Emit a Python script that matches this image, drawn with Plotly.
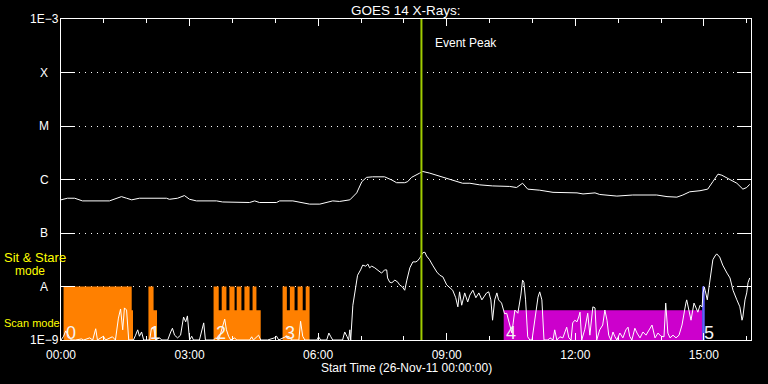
import math
import plotly.graph_objects as go

# ---------------- data ----------------
# time axis in hours after 26-Nov-2011 00:00 UT
x_range_hours = [0.0, 16.1]
x_tick_hours = [0, 3, 6, 9, 12, 15]
x_tick_labels = ["00:00", "03:00", "06:00", "09:00", "12:00", "15:00"]

y_tick_flux = [1e-9, 1e-8, 1e-7, 1e-6, 1e-5, 1e-4, 1e-3]
y_tick_labels = ["1E\u22129", "A", "B", "C", "M", "X", "1E\u22123"]

# GOES 14 long channel (1-8 A), log10 of flux in W/m^2
long_hours = [0.00, 0.15, 0.32, 0.43, 0.50, 1.13, 1.41, 1.53, 1.65, 1.83, 2.46, 2.53,
              2.72, 2.88, 3.00, 3.16, 3.40, 3.63, 3.77, 4.33, 4.40, 4.52, 4.63, 5.03,
              5.10, 5.41, 5.57, 5.80, 6.04, 6.20, 6.34, 6.50, 6.74, 6.90, 7.02, 7.13,
              7.27, 7.55, 7.62, 7.72, 7.83, 8.02, 8.09, 8.18, 8.37, 8.44, 8.60, 8.77,
              8.91, 9.14, 9.37, 9.54, 9.77, 10.07, 10.47, 10.63, 10.77, 10.89, 11.17,
              11.48, 12.04, 12.18, 12.46, 12.57, 12.97, 13.34, 13.90, 14.14, 14.37,
              14.51, 14.67, 14.91, 15.09, 15.21, 15.33, 15.42, 15.61, 15.77, 15.91,
              16.00, 16.07]
long_log10 = [-6.38, -6.35, -6.35, -6.38, -6.40, -6.40, -6.32, -6.35, -6.38, -6.35, -6.35, -6.37,
              -6.35, -6.30, -6.37, -6.40, -6.40, -6.40, -6.42, -6.42, -6.43, -6.40, -6.43, -6.43,
              -6.40, -6.40, -6.43, -6.46, -6.46, -6.43, -6.40, -6.41, -6.38, -6.25, -6.04, -5.96,
              -5.95, -5.95, -5.97, -6.01, -6.06, -6.06, -6.04, -5.96, -5.88, -5.85, -5.88, -5.92,
              -5.96, -6.02, -6.07, -6.07, -6.10, -6.12, -6.13, -6.15, -6.07, -6.18, -6.20,
              -6.24, -6.25, -6.27, -6.25, -6.28, -6.31, -6.29, -6.29, -6.32, -6.33,
              -6.29, -6.23, -6.21, -6.18, -6.04, -5.90, -5.92, -6.01, -6.07, -6.18,
              -6.15, -6.09]

# GOES 14 short channel (0.5-4 A), log10 of flux in W/m^2 (clipped at 1E-9)
short_hours = [0.00, 0.06, 0.11, 0.15, 0.20, 0.24, 0.34, 0.48, 0.53, 0.67, 0.74, 0.81, 0.85,
               0.99, 1.04, 1.20, 1.27, 1.34, 1.39, 1.44, 1.48, 1.53, 1.58, 1.69, 1.74, 1.79,
               1.83, 1.88, 1.93, 2.07, 2.11, 2.16, 2.21, 2.30, 2.35, 2.49, 2.56, 2.60, 2.65,
               2.72, 2.79, 2.86, 2.91, 2.95, 3.00, 3.05, 3.09, 3.23, 3.33, 3.37, 3.56, 3.61,
               3.68, 3.82, 3.86, 3.91, 3.96, 4.05, 4.10, 4.40, 4.45, 4.49, 4.61, 4.66, 4.82,
               4.98, 5.03, 5.08, 5.26, 5.33, 5.38, 5.55, 5.59, 5.64, 5.69, 5.97, 6.01, 6.06,
               6.20, 6.25, 6.29, 6.34, 6.57, 6.62, 6.67, 6.71, 6.74, 6.76, 6.81, 6.85, 6.92,
               6.99, 7.04, 7.11, 7.16, 7.20, 7.25, 7.32, 7.39, 7.44, 7.48, 7.55, 7.60, 7.62,
               7.67, 7.72, 7.79, 7.86, 7.90, 7.97, 8.02, 8.07, 8.14, 8.21, 8.28, 8.32, 8.37,
               8.44, 8.49, 8.53, 8.60, 8.67, 8.77, 8.84, 8.91, 9.00, 9.07, 9.14, 9.21, 9.26,
               9.30, 9.35, 9.42, 9.49, 9.54, 9.61, 9.68, 9.75, 9.82, 9.89, 9.93, 9.98, 10.03,
               10.07, 10.12, 10.17, 10.21, 10.28, 10.35, 10.40, 10.45, 10.52, 10.59, 10.66,
               10.73, 10.77, 10.80, 10.84, 10.89, 10.94, 10.99, 11.06, 11.13, 11.17, 11.22,
               11.27, 11.36, 11.41, 11.48, 11.52, 11.57, 11.64, 11.71, 11.80, 11.85, 11.90,
               11.94, 11.99, 12.04, 12.08, 12.11, 12.15, 12.22, 12.29, 12.34, 12.41, 12.46,
               12.50, 12.57, 12.64, 12.69, 12.74, 12.78, 12.83, 12.88, 12.92, 12.97, 13.04,
               13.11, 13.18, 13.23, 13.27, 13.32, 13.39, 13.44, 13.51, 13.58, 13.65, 13.72,
               13.79, 13.86, 13.93, 14.00, 14.07, 14.11, 14.16, 14.21, 14.28, 14.35, 14.42,
               14.49, 14.53, 14.58, 14.60, 14.65, 14.70, 14.77, 14.81, 14.86, 14.91, 14.96,
               14.98, 15.01, 15.03, 15.08, 15.12, 15.17, 15.21, 15.26, 15.30, 15.37, 15.44,
               15.54, 15.61, 15.68, 15.72, 15.77, 15.84, 15.89, 15.91, 15.96, 16.00, 16.03,
               16.07]
short_log10 = [-9.00, -8.93, -8.83, -8.89, -8.96, -9.00, -9.00, -8.98, -9.00, -8.96, -9.00, -8.79, -9.00,
               -8.93, -9.00, -8.94, -9.00, -8.59, -8.42, -8.81, -8.40, -8.44, -9.00, -9.00, -8.91, -8.81,
               -8.93, -8.85, -9.00, -9.00, -8.78, -8.76, -9.00, -8.96, -9.00, -9.00, -8.85, -8.78, -8.91,
               -8.96, -8.91, -8.57, -8.66, -8.55, -9.00, -8.93, -9.00, -9.00, -8.68, -9.00, -9.00, -8.96,
               -9.00, -8.61, -8.81, -8.93, -9.00, -8.96, -9.00, -9.00, -8.94, -9.00, -8.91, -9.00, -9.00,
               -8.96, -8.93, -9.00, -8.93, -8.94, -9.00, -9.00, -8.65, -8.93, -9.00, -9.00, -8.94, -9.00,
               -9.00, -8.87, -8.93, -9.00, -9.00, -8.85, -8.93, -9.00, -8.81, -9.00, -8.35, -8.16, -7.79,
               -7.69, -7.60, -7.62, -7.58, -7.65, -7.62, -7.65, -7.69, -7.73, -7.75, -7.69, -7.69, -7.84,
               -7.92, -7.93, -7.88, -7.92, -7.97, -8.01, -8.07, -7.88, -7.65, -7.54, -7.54, -7.52, -7.47,
               -7.37, -7.36, -7.43, -7.50, -7.60, -7.73, -7.79, -7.82, -7.97, -8.03, -8.07, -8.21, -8.38,
               -8.10, -8.35, -8.12, -8.29, -8.16, -8.07, -8.21, -8.12, -8.25, -8.18, -8.12, -8.10, -8.25,
               -8.63, -8.25, -8.12, -8.25, -8.31, -8.51, -8.50, -8.66, -8.87, -8.44, -8.50,
               -8.16, -7.88, -7.92, -8.25, -8.94, -9.00, -9.00, -8.63, -8.20, -8.10, -8.25,
               -9.00, -9.00, -8.96, -9.00, -8.81, -9.00, -8.94, -8.96, -8.76, -8.96, -9.00,
               -8.68, -8.63, -8.66, -8.57, -8.48, -9.00, -8.81, -8.50, -8.91, -8.38, -8.40,
               -9.00, -8.81, -8.72, -8.44, -8.63, -8.91, -9.00, -8.85, -8.93, -9.00, -8.87,
               -8.96, -8.81, -8.76, -8.93, -9.00, -8.78, -8.87, -8.96, -8.85, -8.91, -8.81,
               -8.72, -8.96, -8.87, -8.93, -8.94, -8.31, -8.87, -8.96, -8.91, -8.96, -8.91,
               -8.72, -8.50, -8.31, -8.25, -8.44, -8.63, -8.31, -8.40, -8.48, -8.35, -8.38,
               -8.12, -8.01, -8.07, -8.25, -8.01, -7.75, -7.50, -7.43, -7.39, -7.45, -7.60,
               -7.75, -7.84, -8.07, -8.16, -8.25, -8.38, -8.63, -8.57, -8.25, -8.12, -7.93,
               -7.84]

# instrument observing-mode segments (step edges in hours, mode per step)
SIT, SCAN = "sit", "scan"
mode_level = {SIT: 1e-8, SCAN: 3.6e-9}
segments = [
    dict(label="0", color="#ff8000", edges=[0.06, 1.65, 1.68], modes=[SIT, SCAN]),
    dict(label="1", color="#ff8000", edges=[2.04, 2.16, 2.24], modes=[SIT, SCAN]),
    dict(label="2", color="#ff8000",
         edges=[3.56, 3.68, 3.75, 3.86, 3.93, 4.05, 4.10, 4.21, 4.28, 4.40, 4.47, 4.56, 4.66],
         modes=[SIT, SCAN, SIT, SCAN, SIT, SCAN, SIT, SCAN, SIT, SCAN, SIT, SCAN]),
    dict(label="3", color="#ff8000",
         edges=[5.17, 5.27, 5.34, 5.45, 5.52, 5.64, 5.71, 5.80],
         modes=[SIT, SCAN, SIT, SCAN, SIT, SCAN, SIT]),
    dict(label="4", color="#cc00cc", edges=[10.33, 14.96], modes=[SCAN]),
    dict(label="5", color="#6060ff", edges=[14.96, 15.02], modes=[SIT]),
]

event_peak_hour = 8.41

# ---------------- figure ----------------
FONT = "Liberation Sans"
fig = go.Figure()
base = y_tick_flux[0]

for seg in segments:
    xs, ys = [seg["edges"][0]], [base]
    for i, m in enumerate(seg["modes"]):
        lvl = mode_level[m]
        xs += [seg["edges"][i], seg["edges"][i + 1]]
        ys += [lvl, lvl]
    xs.append(seg["edges"][-1])
    ys.append(base)
    fig.add_trace(go.Scatter(x=xs, y=ys, mode="lines", fill="toself",
                             fillcolor=seg["color"], line=dict(width=0, color=seg["color"]),
                             hoverinfo="skip", showlegend=False))

fig.add_trace(go.Scatter(x=short_hours, y=[10 ** v for v in short_log10], mode="lines",
                         line=dict(color="white", width=1), showlegend=False))
fig.add_trace(go.Scatter(x=long_hours, y=[10 ** v for v in long_log10], mode="lines",
                         line=dict(color="white", width=1), showlegend=False))

fig.add_shape(type="line", x0=event_peak_hour, x1=event_peak_hour, y0=0, y1=1,
              xref="x", yref="paper", line=dict(color="#a0cc00", width=2))

ann = []
ann.append(dict(x=0.5, y=1, xref="paper", yref="paper", text="GOES 14 X-Rays:",
                showarrow=False, xanchor="center", yanchor="middle", yshift=9,
                font=dict(family=FONT, size=13.5, color="white")))
ann.append(dict(x=event_peak_hour + 0.27, y=-3.45, xref="x", yref="y", text="Event Peak",
                showarrow=False, xanchor="left", yanchor="middle",
                font=dict(family=FONT, size=12, color="white")))
for seg in segments:
    ann.append(dict(x=seg["edges"][0], y=-8.86, xref="x", yref="y", text=seg["label"],
                    showarrow=False, xanchor="left", yanchor="middle", xshift=0,
                    font=dict(family=FONT, size=18, color="#f4f4f4")))
for v, t in zip(y_tick_flux, y_tick_labels):
    ann.append(dict(x=-0.0246, y=math.log10(v), xref="paper", yref="y", text=t,
                    showarrow=False, xanchor="center", yanchor="middle",
                    font=dict(family=FONT, size=12, color="white")))
ann.append(dict(x=-0.0855, y=0.2555, xref="paper", yref="paper", text="Sit & Stare",
                showarrow=False, xanchor="left", yanchor="middle",
                font=dict(family=FONT, size=13, color="#ffff00")))
ann.append(dict(x=-0.0695, y=0.215, xref="paper", yref="paper", text="mode",
                showarrow=False, xanchor="left", yanchor="middle",
                font=dict(family=FONT, size=12, color="#ffff00")))
ann.append(dict(x=-0.0855, y=0.053, xref="paper", yref="paper", text="Scan mode",
                showarrow=False, xanchor="left", yanchor="middle",
                font=dict(family=FONT, size=11, color="#ffff00")))
ann.append(dict(x=0.5, y=-0.0885, xref="paper", yref="paper",
                text="Start Time (26-Nov-11 00:00:00)",
                showarrow=False, xanchor="center", yanchor="middle",
                font=dict(family=FONT, size=12, color="white")))

fig.update_layout(
    width=768, height=384,
    paper_bgcolor="black", plot_bgcolor="black",
    margin=dict(l=61, r=17, t=19, b=44, autoexpand=False),
    annotations=ann,
    showlegend=False,
    xaxis=dict(range=x_range_hours, tickvals=x_tick_hours, ticktext=x_tick_labels,
               showgrid=False, zeroline=False, showline=True, linecolor="white", linewidth=1,
               mirror="ticks", ticks="inside", ticklen=7, tickcolor="white", tickwidth=1,
               ticklabelstandoff=4,
               minor=dict(dtick=1, tick0=0, ticks="inside", ticklen=4, tickcolor="white",
                          showgrid=False),
               tickfont=dict(family=FONT, size=12, color="white")),
    yaxis=dict(type="log", range=[-9, -3], tickvals=y_tick_flux, showticklabels=False,
               showgrid=True, gridcolor="white", gridwidth=1, griddash="1px,5px",
               zeroline=False, showline=True, linecolor="white", linewidth=1,
               mirror="ticks", ticks="inside", ticklen=14, tickcolor="white", tickwidth=1),
)

# remove the default page margin so the 768x384 figure fills the window exactly
fig.write_html("out.html", config={"displayModeBar": False},
               post_script="document.body.style.margin='0';document.body.style.background='black';")
